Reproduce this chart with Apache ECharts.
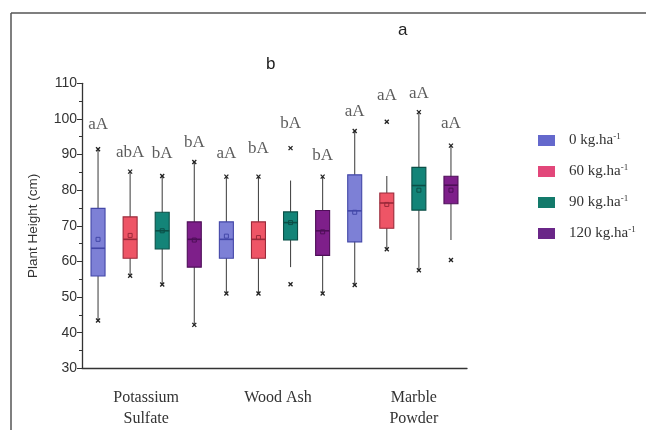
<!DOCTYPE html>
<html>
<head>
<meta charset="utf-8">
<script src="https://cdn.jsdelivr.net/npm/echarts@6/dist/echarts.min.js"></script>
<style>html,body{margin:0;padding:0;background:#fff}#c{width:646px;height:430px}</style>
</head>
<body>
<div id="c"></div>
<script>
// ---- data ----
const fertilizers = ['Potassium\nSulfate', 'Wood Ash', 'Marble\nPowder'];
const doseNames = ['0 kg.ha', '60 kg.ha', '90 kg.ha', '120 kg.ha'];
// each row (one per fertilizer): [whiskerLow, Q1, median, Q3, whiskerHigh, mean, minMarker, maxMarker]
const dose0   = [[43.4, 55.9, 63.7, 74.9, 91.5, 66.2, 43.4, 91.5],
                 [51.0, 60.9, 66.2, 71.1, 83.8, 67.1, 51.0, 83.8],
                 [53.4, 65.5, 74.2, 84.3, 96.6, 73.8, 53.4, 96.6]];
const dose60  = [[56.0, 60.9, 66.2, 72.5, 85.2, 67.3, 56.0, 85.2],
                 [51.0, 60.9, 66.2, 71.1, 83.8, 66.7, 51.0, 83.8],
                 [63.4, 69.3, 76.4, 79.2, 84.0, 76.0, 63.4, 99.2]];
const dose90  = [[53.5, 63.5, 68.6, 73.8, 84.0, 68.6, 53.5, 84.0],
                 [58.4, 66.0, 70.9, 73.9, 82.7, 70.9, 53.6, 91.8],
                 [57.5, 74.4, 81.3, 86.4, 101.9, 80.0, 57.5, 101.9]];
const dose120 = [[42.2, 58.4, 66.2, 71.1, 87.9, 66.0, 42.2, 87.9],
                 [51.0, 61.7, 68.6, 74.3, 83.8, 68.3, 51.0, 83.8],
                 [66.0, 76.2, 81.4, 83.9, 92.5, 80.0, 60.4, 92.5]];
// significance letters, in box order (fertilizer by fertilizer, dose 0..120)
const letters = ['aA', 'abA', 'bA', 'bA', 'aA', 'bA', 'bA', 'bA', 'aA', 'aA', 'aA', 'aA'];
const letterHeights = [98.3, 90.5, 90.3, 93.3, 90.3, 91.8, 98.8, 89.6, 102.0, 106.5, 107.2, 98.6];
const yTicks = {min: 30, max: 110, interval: 10};

// ---- styling ----
const fills   = ['#7d80d6', '#ee5566', '#138478', '#7e1f8a'];
const borders = ['#4347a8', '#9a2a3a', '#0b4f47', '#4e0f58'];
const legendColors = ['#6468cc', '#e2477a', '#137a6b', '#6a2688'];
const allDoses = [dose0, dose60, dose90, dose120];

const slots = [];
fertilizers.forEach((f, fi) => doseNames.forEach((d, di) => slots.push(f.replace('\n', ' ') + ' ' + d)));

function makeRender(di) {
  return function (params, api) {
    const x = api.value(0);
    const v = i => api.value(i);
    const P = val => api.coord([x, val]);
    const bw = 14;
    const cx = P(v(3))[0];
    const yLo = P(v(1))[1], yQ1 = P(v(2))[1], yMed = P(v(3))[1], yQ3 = P(v(4))[1], yHi = P(v(5))[1];
    const yMean = P(v(6))[1], yMin = P(v(7))[1], yMax = P(v(8))[1];
    const cross = (yy) => ({
      type: 'group', children: [
        {type: 'line', shape: {x1: cx - 2, y1: yy - 2, x2: cx + 2, y2: yy + 2}, style: {stroke: '#222', lineWidth: 1.3}},
        {type: 'line', shape: {x1: cx - 2, y1: yy + 2, x2: cx + 2, y2: yy - 2}, style: {stroke: '#222', lineWidth: 1.3}}
      ]
    });
    return {
      type: 'group',
      children: [
        {type: 'line', shape: {x1: cx, y1: yLo, x2: cx, y2: yHi}, style: {stroke: '#4a4a4a', lineWidth: 1.1}},
        {type: 'rect', shape: {x: cx - bw / 2, y: yQ3, width: bw, height: yQ1 - yQ3},
         style: {fill: fills[di], stroke: borders[di], lineWidth: 1.1}},
        {type: 'line', shape: {x1: cx - bw / 2, y1: yMed, x2: cx + bw / 2, y2: yMed}, style: {stroke: borders[di], lineWidth: 1.6}},
        {type: 'rect', shape: {x: cx - 2, y: yMean - 2, width: 4, height: 4}, style: {fill: 'none', stroke: borders[di], lineWidth: 1}},
        cross(yMin),
        cross(yMax)
      ]
    };
  };
}

const series = allDoses.map((rows, di) => ({
  name: doseNames[di],
  type: 'custom',
  xAxisIndex: 0,
  itemStyle: {color: legendColors[di]},
  renderItem: makeRender(di),
  encode: {x: 0, y: [1, 2, 3, 4, 5, 6, 7, 8]},
  data: rows.map((r, fi) => [fi * 4 + di].concat(r))
}));

series.push({
  name: 'letters',
  type: 'scatter',
  xAxisIndex: 0,
  symbolSize: 1,
  itemStyle: {color: 'rgba(0,0,0,0)'},
  silent: true,
  data: letterHeights.map((h, i) => [i, h]),
  label: {
    show: true, position: 'inside',
    formatter: p => letters[p.dataIndex],
    fontFamily: 'Liberation Serif', fontSize: 17, color: '#333'
  }
});

const chart = echarts.init(document.getElementById('c'), null, {renderer: 'canvas'});
chart.setOption({
  animation: false,
  backgroundColor: '#fff',
  grid: {left: 82, right: 179, top: 83.3, bottom: 61.7},
  legend: {
    orient: 'vertical', left: 533, top: 127,
    icon: 'rect', itemWidth: 17, itemHeight: 11, itemGap: 15,
    data: doseNames.map((n, i) => ({name: n, itemStyle: {color: legendColors[i]}})),
    formatter: n => '{t|' + n + '}{s|-1}',
    textStyle: {
      color: '#333', fontFamily: 'Liberation Serif', fontSize: 15,
      rich: {
        t: {fontFamily: 'Liberation Serif', fontSize: 15, color: '#333', padding: [0, 0, 0, 9]},
        s: {fontFamily: 'Liberation Serif', fontSize: 9, color: '#333', padding: [0, 0, 8, 0]}
      }
    }
  },
  xAxis: [{
    type: 'category', data: slots, gridIndex: 0, position: 'bottom',
    axisLine: {lineStyle: {color: '#333', width: 1.3}},
    axisTick: {alignWithLabel: true, length: 5, lineStyle: {color: '#333'}},
    axisLabel: {show: false},
    splitLine: {show: false}
  }, {
    type: 'category', data: fertilizers, gridIndex: 0, position: 'bottom', offset: 0,
    axisLine: {show: false}, axisTick: {show: false}, splitLine: {show: false},
    axisLabel: {
      margin: 19, interval: 0,
      formatter: (val, idx) => {
        const key = ['a', 'b', 'c'][idx];
        return val.split('\n').map(s => '{' + key + '|' + s + '}').join('\n');
      },
      rich: {
        a: {fontFamily: 'Liberation Serif', fontSize: 16, lineHeight: 21, color: '#333', padding: [0, 0, 0, 0]},
        b: {fontFamily: 'Liberation Serif', fontSize: 16, lineHeight: 21, color: '#333', padding: [0, 0, 0, 7]},
        c: {fontFamily: 'Liberation Serif', fontSize: 16, lineHeight: 21, color: '#333', padding: [0, 0, 0, 22]}
      }
    }
  }],
  yAxis: {
    type: 'value', min: yTicks.min, max: yTicks.max, interval: yTicks.interval,
    name: 'Plant Height (cm)', nameLocation: 'middle', nameGap: 42,
    nameTextStyle: {fontFamily: 'Liberation Sans', fontSize: 13.5, color: '#333'},
    axisLine: {show: true, lineStyle: {color: '#333', width: 1.3}},
    axisTick: {show: true, length: 5, lineStyle: {color: '#333'}},
    minorTick: {show: true, splitNumber: 2, length: 3, lineStyle: {color: '#333'}},
    splitLine: {show: false},
    axisLabel: {fontFamily: 'Liberation Sans', fontSize: 14, color: '#333', margin: 5}
  },
  graphic: [
    {type: 'line', shape: {x1: 11, y1: 13, x2: 646, y2: 13}, style: {stroke: '#555', lineWidth: 1.5}},
    {type: 'line', shape: {x1: 11, y1: 13, x2: 11, y2: 430}, style: {stroke: '#555', lineWidth: 1.5}},
    {type: 'text', left: 398, top: 22, style: {text: 'a', font: '17px "Liberation Sans"', fill: '#222'}},
    {type: 'text', left: 266, top: 56, style: {text: 'b', font: '17px "Liberation Sans"', fill: '#222'}}
  ],
  series: series
});
</script>
</body>
</html>
